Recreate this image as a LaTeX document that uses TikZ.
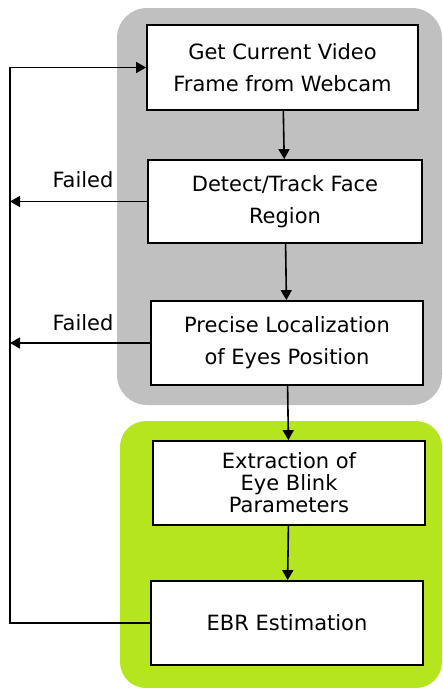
\documentclass[tikz,border=0pt]{standalone}
\usepackage{fontspec}
\setmainfont{DejaVu Sans}
\usetikzlibrary{positioning,calc,arrows.meta}

\definecolor{panelgray}{RGB}{192,192,192}
\definecolor{panelgreen}{RGB}{180,229,30}

\tikzset{
    stagebox/.style={draw, line width=1.8pt, fill=white, align=center,
        minimum width=272pt, minimum height=84pt,
        font=\fontsize{21}{32}\selectfont},
    flow/.style={line width=1.6pt, -{Triangle[width=11pt,length=10pt]}},
    failtext/.style={font=\fontsize{21}{25}\selectfont}
}

\begin{document}
\begin{tikzpicture}[x=1pt,y=-1pt]
    \useasboundingbox (0,0) rectangle (442,688);

    % Panels
    \fill[panelgray, rounded corners=30pt] (117,8) rectangle (442,405);
    \fill[panelgreen, rounded corners=26pt] (120,421) rectangle (442,688);

    % Stages
    \node[stagebox, minimum width=271pt, minimum height=85pt] (frame) at (282.5,67.5) {Get Current Video\\Frame from Webcam};
    \node[stagebox, minimum width=274pt, minimum height=83pt] (face) at (285,201.5) {Detect/Track Face\\Region};
    \node[stagebox] (eyes) at (287,343) {Precise Localization\\of Eyes Position};
    \node[stagebox, font=\fontsize{21}{22}\selectfont] (blink) at (289,483) {Extraction of\\Eye Blink\\Parameters};
    \node[stagebox] (ebr) at (287,623) {EBR Estimation};

    % Forward arrows
    \draw[flow] (frame) -- (face);
    \draw[flow] (face) -- (eyes);
    \draw[flow] (eyes) -- (blink);
    \draw[flow] (blink) -- (ebr);

    % Feedback
    \coordinate (rail) at (10,0);
    \draw[flow] (ebr.west) -- (ebr.west -| rail) |- (frame.west);
    \draw[flow] (face.west) -- (face.west -| rail);
    \draw[flow] (eyes.west) -- (eyes.west -| rail);
    \node[failtext] (fail1) at (83,180) {Failed};
    \node[failtext] (fail2) at (83,323) {Failed};
\end{tikzpicture}
\end{document}
